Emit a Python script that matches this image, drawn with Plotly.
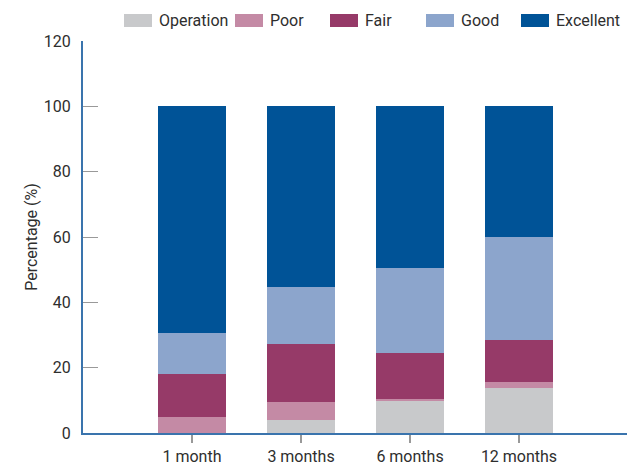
import plotly.graph_objects as go

categories = ["1 month", "3 months", "6 months", "12 months"]
series_names = ["Operation", "Poor", "Fair", "Good", "Excellent"]
operation = [0.0, 4.0, 9.8, 13.8]
poor = [4.9, 5.5, 0.6, 1.8]
fair = [13.1, 17.7, 14.1, 12.8]
good = [12.6, 17.4, 26.0, 31.6]
excellent = [69.4, 55.4, 49.5, 40.0]
y_ticks = [0, 20, 40, 60, 80, 100, 120]

colors = ["#c8c9cb", "#c48aa5", "#963a68", "#8ca5cc", "#005397"]
values = [operation, poor, fair, good, excellent]

OFF = 8  # page body margin
W, H = 635 - OFF, 473 - OFF
ML, MR, MT, MB = 83 - OFF, 7, 41 - OFF, 40
PW, PH = W - ML - MR, H - MT - MB
FONT = "Roboto, Liberation Sans, sans-serif"
FS = 16
TXT = "#2e2e2e"

fig = go.Figure()
for name, vals, col in zip(series_names, values, colors):
    fig.add_trace(go.Bar(
        x=list(range(len(categories))), y=vals, name=name,
        marker=dict(color=col, line=dict(width=0)), width=0.615,
        showlegend=False,
    ))

def px_x(x):
    return (x - OFF - ML) / PW

def px_y(y):
    return (H - MB - (y - OFF)) / PH

# custom legend
swatch_x = [124, 235, 330, 426, 521]
shapes = []
annotations = []
for sx, name, col in zip(swatch_x, series_names, colors):
    shapes.append(dict(type="rect", xref="paper", yref="paper",
                       x0=px_x(sx), x1=px_x(sx + 28), y0=px_y(27), y1=px_y(14),
                       fillcolor=col, line=dict(width=0)))
    annotations.append(dict(xref="paper", yref="paper", x=px_x(sx + 33), y=px_y(20.5),
                            xanchor="left", yanchor="middle", text=name, showarrow=False,
                            font=dict(family=FONT, size=FS, color=TXT)))

fig.update_layout(
    width=W, height=H,
    margin=dict(l=ML, r=MR, t=MT, b=MB, pad=0, autoexpand=False),
    barmode="stack",
    plot_bgcolor="white", paper_bgcolor="white",
    font=dict(family=FONT, size=FS, color=TXT),
    shapes=shapes, annotations=annotations,
    xaxis=dict(
        range=[-1, 4], tickmode="array", tickvals=list(range(len(categories))),
        ticktext=categories, showgrid=False, zeroline=False, automargin=False,
        showline=True, linecolor="#3a74ad", linewidth=2,
        ticks="outside", ticklen=8, tickcolor="#999999", tickwidth=1.5,
        tickfont=dict(family=FONT, size=FS, color=TXT),
    ),
    yaxis=dict(
        range=[0, 120], tickvals=y_ticks, showgrid=False, zeroline=False, automargin=False,
        showline=True, linecolor="#3a74ad", linewidth=2,
        ticks="inside", ticklen=15, tickcolor="#999999", tickwidth=1.2,
        ticklabelstandoff=7,
        tickfont=dict(family=FONT, size=FS, color=TXT),
        title=dict(text="Percentage (%)", font=dict(family=FONT, size=FS, color=TXT), standoff=2),
    ),
)

fig.write_html("out.html")
